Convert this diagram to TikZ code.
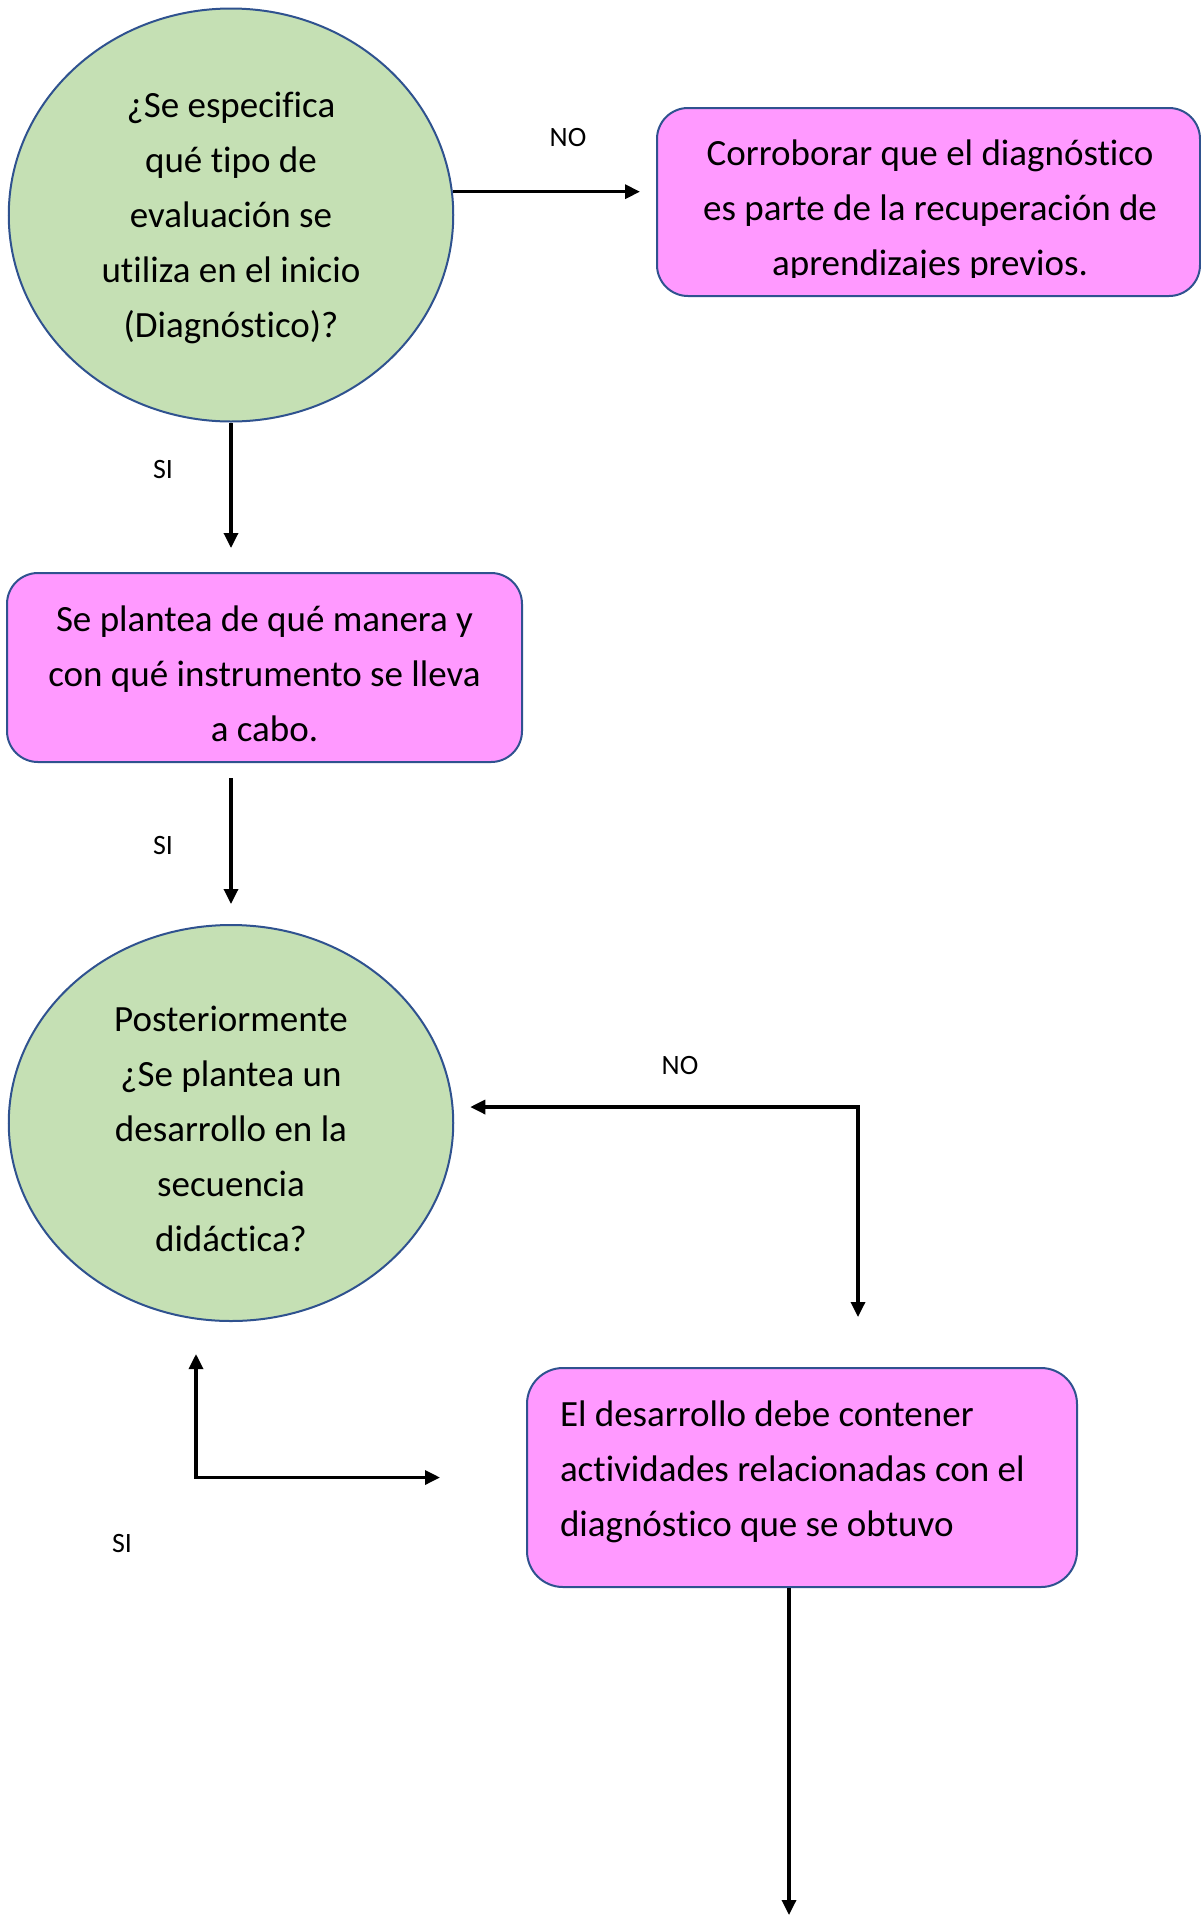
\documentclass[tikz,border=0pt]{standalone}
\usepackage{fontspec}
\setmainfont{Carlito}[Ligatures=NoCommon]
\usetikzlibrary{shapes.geometric,arrows.meta,calc}
\definecolor{bord}{HTML}{2F528F}
\definecolor{grn}{HTML}{C5E0B4}
\definecolor{pnk}{HTML}{FF99FF}
\begin{document}
\begin{tikzpicture}[x=1pt,y=-1pt,
  decision/.style={ellipse, draw=bord, line width=2pt, fill=grn, inner sep=0pt},
  procbox/.style={draw=bord, line width=2pt, fill=pnk, inner sep=0pt},
  txt/.style={inner sep=0pt, font=\fontsize{37}{55}\selectfont},
  lbl/.style={font=\fontsize{28}{34}\selectfont, inner sep=0pt},
  arr/.style={line width=3.3pt, -{Triangle[length=15pt,width=14pt]}},
  arrboth/.style={line width=3.3pt, {Triangle[length=15pt,width=14pt]}-{Triangle[length=15pt,width=14pt]}},
]
\useasboundingbox (0,0) rectangle (1201,1915);

% first decision
\node[decision, minimum width=444.5pt, minimum height=413pt] (c1) at (231,215) {};
\node[txt, align=center] (tc1) at ($(c1.center)+(0,3)$)
  {¿Se especifica\\qué tipo de\\evaluación se\\utiliza en el inicio\\(Diagnóstico)?};

% box 1 (text cut at the bottom, as in the original)
\node[procbox, rounded corners=31pt, minimum width=543pt, minimum height=188pt] (b1) at (928.5,202) {};
\begin{scope}
  \clip (657,100) rectangle (1201,277);
  \node[txt, anchor=north, align=center] (tb1) at (930,140)
    {Corroborar que el diagnóstico\\es parte de la recuperación de\\aprendizajes previos.};
\end{scope}

% box 2
\node[procbox, rounded corners=31pt, minimum width=515pt, minimum height=189pt] (b2) at (264.5,667.5) {};
\node[txt, align=center] (tb2) at ($(b2.center)+(0,6)$)
  {Se plantea de qué manera y\\con qué instrumento se lleva\\a cabo.};

% second decision
\node[decision, minimum width=444.5pt, minimum height=396pt] (c2) at (231,1123) {};
\node[txt, align=center] (tc2) at ($(c2.center)+(0,6)$)
  {Posteriormente\\¿Se plantea un\\desarrollo en la\\secuencia\\didáctica?};

% box 3
\node[procbox, rounded corners=36pt, minimum width=550pt, minimum height=219pt] (b3) at (802,1477.5) {};
\node[txt, align=flush left, text width=484pt] (tb3) at ($(b3.center)+(0,-6)$)
  {El desarrollo debe contener\\actividades relacionadas con el\\diagnóstico que se obtuvo};

% connectors
\draw[arr, shorten >=16pt] (c1.6) -- (c1.6 -| b1.west);
\node[lbl] (no1) at (568,138) {NO};

\draw[arr, shorten >=24pt] (c1.south) -- (c1.south |- b2.north);
\node[lbl] (si1) at (163,470) {SI};

\draw[arr, shorten <=15pt, shorten >=20pt] (b2.south -| c1.south) -- (c2.north);
\node[lbl] (si2) at (163,845) {SI};

\coordinate (nocorner) at (858,1107);
\draw[arrboth, shorten <=16pt, shorten >=50pt] (c2.east |- nocorner) -- (nocorner) -- (nocorner |- b3.north);
\node[lbl] (no2) at (680,1065) {NO};

\coordinate (sicorner) at (196,1477.5);
\draw[arrboth, shorten <=32pt, shorten >=86pt] (sicorner |- c2.south) -- (sicorner) -- (b3.west);
\node[lbl] (si3) at (122,1543) {SI};

\coordinate (endpt) at (789,1915);
\draw[arr] (b3.south -| endpt) -- (endpt);
\end{tikzpicture}
\end{document}
